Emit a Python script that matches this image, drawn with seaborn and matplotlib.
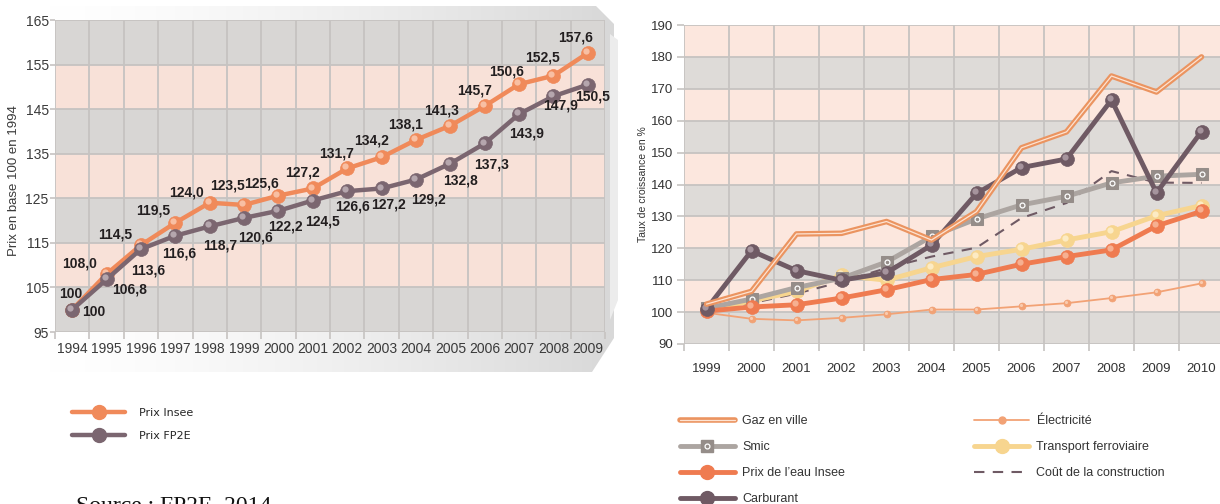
import numpy as np
import matplotlib.pyplot as plt
import seaborn as sns
from matplotlib.lines import Line2D
from matplotlib.patches import Polygon
from matplotlib.colors import LinearSegmentedColormap
from matplotlib.legend_handler import HandlerTuple
from matplotlib.transforms import offset_copy

# ---- left chart data (Prix en base 100 en 1994) ----
years_left = list(range(1994, 2010))
prix_insee = [100, 108.0, 114.5, 119.5, 124.0, 123.5, 125.6, 127.2, 131.7, 134.2,
              138.1, 141.3, 145.7, 150.6, 152.5, 157.6]
prix_fp2e = [100, 106.8, 113.6, 116.6, 118.7, 120.6, 122.2, 124.5, 126.6, 127.2,
             129.2, 132.8, 137.3, 143.9, 147.9, 150.5]

# label offsets in pixels (dx, dy) for the value labels
insee_offsets = [(-1, 16), (-27, 11), (-26, 11), (-22, 12), (-23, 10), (-17, 19), (-17, 12),
                 (-10, 16), (-11, 15), (-10, 17), (-10, 15), (-9, 15), (-10, 16), (-12, 13),
                 (-11, 18), (-12, 15)]
fp2e_offsets = [(22, -2), (23, -10), (7, -21), (4, -18), (10, -19), (11, -20), (7, -16),
                (10, -21), (5, -15), (7, -16), (12, -20), (10, -17), (7, -21), (8, -19),
                (7, -9), (5, -12)]

# ---- right chart data (Taux de croissance en %) ----
years_right = list(range(1999, 2011))
gaz = [102.5, 106.5, 124.5, 124.7, 128.4, 122.6, 131.5, 151.5, 156.5, 174.0, 169.0, 180.0]
smic = [101.2, 104.1, 107.7, 110.6, 115.7, 123.7, 129.2, 133.6, 136.3, 140.5, 142.6, 143.2]
eau = [100.3, 101.6, 102.3, 104.4, 107.0, 110.2, 111.8, 115.0, 117.4, 119.5, 127.0, 131.6]
carburant = [101.0, 119.2, 113.0, 110.0, 112.3, 121.0, 137.2, 145.3, 148.0, 166.5, 137.4, 156.6]
electricite = [99.8, 97.9, 97.4, 98.2, 99.3, 100.8, 100.8, 101.8, 102.8, 104.4, 106.2, 109.0]
ferroviaire = [100.6, 103.5, 106.5, 111.5, 110.0, 113.9, 117.4, 119.7, 122.6, 125.2, 130.2, 133.4]
construction = [100.3, 102.8, 105.8, 109.5, 113.8, 117.4, 120.2, 129.5, 134.2, 144.2, 140.6, 140.5]

ORANGE = '#f08a5a'
PURPLE = '#7b6670'
GAZ = '#eb9460'
GAZ_IN = '#fde3d2'
SMIC = '#aca5a1'
SMIC_MK = '#958d89'
EAU = '#ef7b50'
CARB = '#6f5a64'
ELEC = '#f2a275'
FERRO = '#f7d58f'
GRID = '#c6c3c1'

sns.set_style('white')
plt.rcParams['font.family'] = ['Liberation Sans', 'DejaVu Sans']

W, H = 1220, 504
fig = plt.figure(figsize=(W / 100, H / 100), dpi=100)

# background frame (shaded box behind the left chart)
bg = fig.add_axes([0, 0, 1, 1], zorder=-5)
bg.set_xlim(0, W)
bg.set_ylim(H, 0)
bg.axis('off')
gx = np.linspace(0, 1, 256) ** 1.4
grad = np.tile(gx, (64, 1))
shade = LinearSegmentedColormap.from_list('shade', ['#ffffff', '#d8d8d8'])
im = bg.imshow(grad, extent=(40, 616, 372, 4), cmap=shade, aspect='auto', vmin=0, vmax=1)
frame = Polygon([(40, 6), (596, 6), (614, 24), (614, 338), (592, 372), (40, 372)],
                closed=True, transform=bg.transData, fc='none', ec='none')
bg.add_patch(frame)
im.set_clip_path(frame)
bg.add_patch(Polygon([(610, 34), (618, 40), (618, 300), (610, 320)], closed=True,
                     fc='#ececec', ec='none'))


def bands(ax, lo, hi, first, second):
    for k, v in enumerate(range(lo, hi, 10)):
        ax.axhspan(v, v + 10, color=first if k % 2 == 0 else second, zorder=0, lw=0)


def balls(ax, x, y, color, hl, ms, lw, z, ls='-'):
    sns.lineplot(x=x, y=y, ax=ax, color=color, lw=lw, marker='o', ms=ms, mfc=color,
                 mec=color, mew=0.5, zorder=z, ls=ls)
    shift = offset_copy(ax.transData, fig=fig, x=-ms * 0.14, y=ms * 0.14, units='points')
    ax.plot(x, y, 'o', ms=ms * 0.45, color=hl, alpha=0.75, mew=0, transform=shift,
            zorder=z + 0.1)


# ================= left chart =================
ax1 = fig.add_axes([55 / W, 1 - 332 / H, 550 / W, 312 / H])
bands(ax1, 95, 165, '#d8d6d4', '#f8e1d8')
balls(ax1, years_left, prix_insee, ORANGE, '#fbd2bd', 10, 3.2, 3)
balls(ax1, years_left, prix_fp2e, PURPLE, '#c9bcc2', 10, 3.2, 4)

lab = dict(textcoords='offset pixels', ha='center', va='center', fontsize=10,
           fontweight='bold', color='#231f20', zorder=6)
for x, v, off in zip(years_left, prix_insee, insee_offsets):
    txt = '100' if v == 100 else f'{v:.1f}'.replace('.', ',')
    ax1.annotate(txt, (x, v), xytext=off, **lab)
for x, v, off in zip(years_left, prix_fp2e, fp2e_offsets):
    txt = '100' if v == 100 else f'{v:.1f}'.replace('.', ',')
    ax1.annotate(txt, (x, v), xytext=off, **lab)

ax1.set_xlim(1993.5, 2009.5)
ax1.set_ylim(95, 165)
ax1.set_xticks(years_left)
ax1.set_xticks(np.arange(1993.5, 2010, 1), minor=True)
ax1.set_yticks(range(95, 166, 10))
ax1.set_axisbelow(True)
ax1.grid(which='minor', axis='x', color=GRID, lw=1.3)
ax1.grid(which='major', axis='y', color=GRID, lw=1.3)
ax1.grid(which='major', axis='x', visible=False)
ax1.tick_params(axis='x', which='major', length=0, pad=7, labelsize=10, labelcolor='#3a3a3a')
ax1.tick_params(axis='x', which='minor', length=5, color=GRID, width=1.2, bottom=True)
ax1.tick_params(axis='y', length=3.5, color=GRID, width=1.2, pad=1, labelsize=10,
                labelcolor='#3a3a3a', left=True)
for s in ax1.spines.values():
    s.set_visible(False)
ax1.set_xlabel('')
ax1.set_ylabel('')
fig.text(14 / W, 1 - 181 / H, 'Prix en base 100 en 1994', rotation=90, ha='center',
         va='center', fontsize=9.5, color='#3a3a3a')

# ================= right chart =================
ax2 = fig.add_axes([684 / W, 1 - 344 / H, 540 / W, 319 / H])
bands(ax2, 90, 190, '#dedbd8', '#fce7de')

sns.lineplot(x=years_right, y=construction, ax=ax2, color=CARB, lw=1.5, dashes=(5, 4),
             zorder=2)
balls(ax2, years_right, electricite, ELEC, '#fcd9c4', 5, 1.3, 2.2)
balls(ax2, years_right, ferroviaire, FERRO, '#fff3d6', 10, 3.5, 2.4)
sns.lineplot(x=years_right, y=smic, ax=ax2, color=SMIC, lw=3.5, marker='s', ms=8.5,
             mfc=SMIC_MK, mec=SMIC_MK, zorder=2.6)
ax2.plot(years_right, smic, 'o', ms=3.5, mfc='none', mec='white', mew=0.9, zorder=2.7)
balls(ax2, years_right, eau, EAU, '#f9c2a8', 10, 3.5, 2.8)
balls(ax2, years_right, carburant, CARB, '#b9a9b1', 10, 3.5, 3.2)
sns.lineplot(x=years_right, y=gaz, ax=ax2, color=GAZ, lw=4, zorder=3.6)
sns.lineplot(x=years_right, y=gaz, ax=ax2, color=GAZ_IN, lw=0.9, zorder=3.7)

ax2.set_xlim(1998.5, 2010.5)
ax2.set_ylim(90, 190)
ax2.set_xticks(years_right)
ax2.set_xticks(np.arange(1998.5, 2011, 1), minor=True)
ax2.set_yticks(range(90, 191, 10))
ax2.set_axisbelow(True)
ax2.grid(which='minor', axis='x', color=GRID, lw=1.3)
ax2.grid(which='major', axis='y', color=GRID, lw=1.3)
ax2.grid(which='major', axis='x', visible=False)
ax2.tick_params(axis='x', which='major', length=0, pad=14, labelsize=9.5, labelcolor='#333333')
ax2.tick_params(axis='x', which='minor', length=5, color=GRID, width=1.2, bottom=True)
ax2.tick_params(axis='y', length=5, color=GRID, width=1.2, pad=3, labelsize=9.5,
                labelcolor='#333333', left=True)
for s in ax2.spines.values():
    s.set_visible(False)
ax2.set_xlabel('')
ax2.set_ylabel('')
fig.text(643 / W, 1 - 184 / H, 'Taux de croissance en %', rotation=90, ha='center',
         va='center', fontsize=7.5, color='#333333')

# ================= legends =================
def ball_handle(color, ms, lw, ls='-'):
    return Line2D([], [], color=color, lw=lw, marker='o', ms=ms, mfc=color, mec=color, ls=ls)


tuple_map = {tuple: HandlerTuple(ndivide=1, pad=0)}

left_handles = [ball_handle(ORANGE, 10, 3.2), ball_handle(PURPLE, 10, 3.2)]
fig.legend(left_handles, ['Prix Insee', 'Prix FP2E'], loc='upper left',
           bbox_to_anchor=(72 / W, 1 - 408 / H), frameon=False, borderpad=0, borderaxespad=0,
           handlelength=4.8, handletextpad=1.2, labelspacing=1.15,
           prop={'family': 'DejaVu Sans', 'size': 8})

gaz_handle = (Line2D([], [], color=GAZ, lw=4), Line2D([], [], color=GAZ_IN, lw=0.9))
smic_handle = (Line2D([], [], color=SMIC, lw=3.5, marker='s', ms=8, mfc=SMIC_MK, mec=SMIC_MK),
               Line2D([], [], ls='none', marker='o', ms=3.5, mfc='none', mec='white', mew=0.9))
col1 = [gaz_handle, smic_handle, ball_handle(EAU, 10, 3.5), ball_handle(CARB, 10, 3.5)]
col1_labels = ['Gaz en ville', 'Smic', "Prix de l’eau Insee", 'Carburant']
col2 = [ball_handle(ELEC, 5, 1.3), ball_handle(FERRO, 10, 3.5),
        Line2D([], [], color=CARB, lw=1.5, dashes=(5, 4))]
col2_labels = ['Électricité', 'Transport ferroviaire', 'Coût de la construction']
legend_kw = dict(loc='upper left', frameon=False, borderpad=0, borderaxespad=0,
                 handlelength=4.4, handletextpad=0.6, labelspacing=1.12,
                 prop={'size': 9}, labelcolor='#333333', handler_map=tuple_map)
fig.legend(col1, col1_labels, bbox_to_anchor=(680 / W, 1 - 415 / H), **legend_kw)
fig.legend(col2, col2_labels, bbox_to_anchor=(974 / W, 1 - 415 / H), **legend_kw)

fig.text(76 / W, 1 - 512 / H, 'Source : FP2E, 2014', ha='left', va='baseline',
         fontsize=17, family=['Liberation Serif', 'DejaVu Serif'], color='#111111')

fig.savefig('out.png', dpi=100)
